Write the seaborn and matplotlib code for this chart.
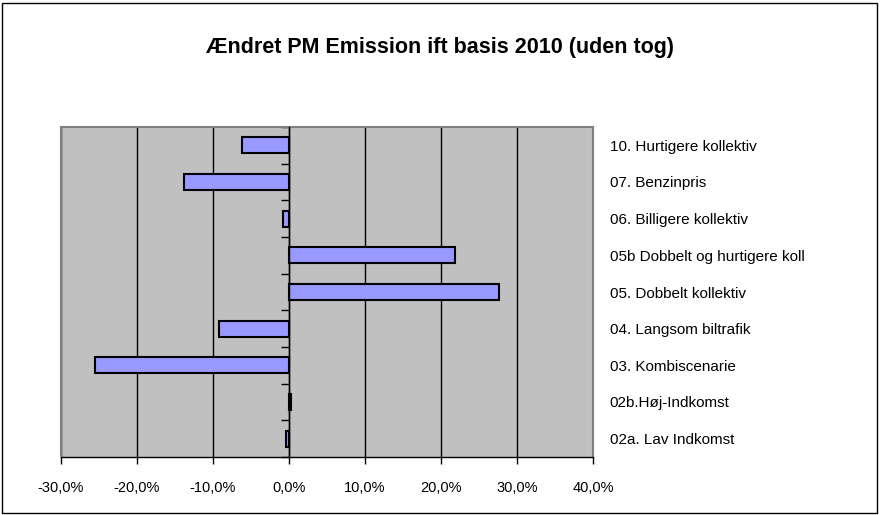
import matplotlib
matplotlib.use("Agg")
import matplotlib.pyplot as plt
import seaborn as sns
import pandas as pd
from matplotlib.patches import Rectangle
from matplotlib.ticker import FixedLocator, FuncFormatter

categories = [
    "10. Hurtigere kollektiv",
    "07. Benzinpris",
    "06. Billigere kollektiv",
    "05b Dobbelt og hurtigere koll",
    "05. Dobbelt kollektiv",
    "04. Langsom biltrafik",
    "03. Kombiscenarie",
    "02b.Høj-Indkomst",
    "02a. Lav Indkomst",
]
values = [-6.2, -13.8, -0.8, 21.9, 27.6, -9.2, -25.5, 0.3, -0.35]
x_ticks = [-30, -20, -10, 0, 10, 20, 30, 40]
title = "Ændret PM Emission ift basis 2010 (uden tog)"

df = pd.DataFrame({"cat": categories, "val": values})

sns.set_style("white")
plt.rcParams["font.family"] = ["Liberation Sans", "DejaVu Sans"]
plt.rcParams["text.color"] = "black"
plt.rcParams["xtick.color"] = "black"
plt.rcParams["ytick.color"] = "black"

fig = plt.figure(figsize=(8.8, 5.15), dpi=100)
ax = fig.add_axes([61/880, 1-457/515, (593-61)/880, (457-127)/515])
ax.set_facecolor("#C0C0C0")

sns.barplot(data=df, y="cat", x="val", orient="h", ax=ax, color="#9999FF",
            edgecolor="black", linewidth=1.5, width=0.44, saturation=1, zorder=3)

ax.set_xlim(-30, 40)
ax.set_ylim(len(categories) - 0.5, -0.5)
ax.set_xticks(x_ticks)
ax.xaxis.set_major_formatter(FuncFormatter(lambda v, p: f"{v:.1f}%".replace(".", ",")))
ax.xaxis.grid(True, color="black", linewidth=1)
ax.set_axisbelow(True)
ax.set_xlabel("")
ax.set_ylabel("")

# zero axis line with category boundary ticks
ax.spines["left"].set_position(("data", 0))
ax.spines["left"].set_color("black")
ax.spines["left"].set_linewidth(1)
ax.spines["left"].set_zorder(4)
ax.spines["bottom"].set_color("black")
ax.spines["bottom"].set_linewidth(1)
for s in ["top", "right"]:
    ax.spines[s].set_color("#808080")
    ax.spines[s].set_linewidth(1.5)

ax.yaxis.set_minor_locator(FixedLocator([i - 0.5 for i in range(len(categories) + 1)]))
ax.tick_params(axis="y", which="minor", left=True, right=False, length=6,
               width=1, direction="out", color="black")
ax.tick_params(axis="y", which="major", left=False, right=False,
               labelleft=False, labelright=True, length=0, pad=12, labelsize=11,
               labelcolor="black")
ax.tick_params(axis="x", which="major", bottom=True, length=5, width=1,
               direction="out", color="black", labelsize=10.5, pad=12,
               labelcolor="black")

# gray plot area frame on the left
ax.add_patch(Rectangle((0, 0), 0, 1, transform=ax.transAxes, fill=False,
                       edgecolor="#808080", linewidth=1.5, clip_on=False, zorder=5))

fig.text(440/880, 1 - 52.7/515, title, ha="center", va="baseline",
         fontsize=15.5, fontweight="bold", color="black")

fig.patches.append(Rectangle((2/880, 2/515), 875/880, 510/515, transform=fig.transFigure,
                             fill=False, edgecolor="black", linewidth=1))

fig.savefig("out.png", dpi=100, facecolor="white")
